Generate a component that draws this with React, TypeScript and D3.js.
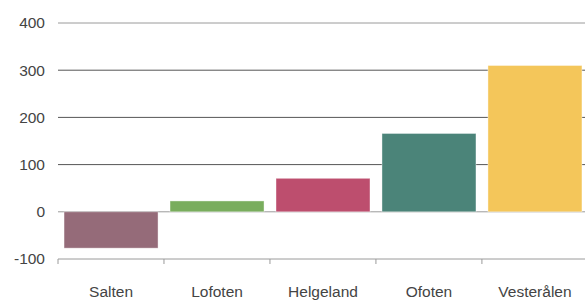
import React from "react";
import * as d3 from "d3";

const regions = ["Salten", "Lofoten", "Helgeland", "Ofoten", "Vesterålen"];
const values = [-77, 23, 71, 166, 310];
const colors = ["#956b79", "#79ad5d", "#bd4e6e", "#4b8479", "#f4c65a"];
const yTicks = [-100, 0, 100, 200, 300, 400];

const App = () => {
  const width = 585;
  const height = 300;
  const margin = { top: 23, right: -3, bottom: 41, left: 58 };

  const x = d3
    .scaleBand()
    .domain(regions)
    .range([margin.left, width - margin.right])
    .paddingInner(0.113)
    .paddingOuter(0.057);

  const y = d3
    .scaleLinear()
    .domain([-100, 400])
    .range([height - margin.bottom, margin.top]);

  const step = x.step();
  const bandStart = (r: string) => margin.left + regions.indexOf(r) * step;
  const font = "'Liberation Sans', Arial, sans-serif";

  return (
    <svg
      width={width}
      height={height}
      style={{ position: "absolute", left: 0, top: 0, display: "block" }}
    >
      {/* grid */}
      {yTicks.map((t) => (
        <g key={t}>
          <line
            x1={margin.left}
            x2={width}
            y1={y(t)}
            y2={y(t)}
            stroke={t === 400 || t === -100 || t === 0 ? "#9a9a9a" : "#555"}
            strokeWidth={1}
          />
          <text
            x={45}
            y={y(t)}
            dy="0.35em"
            textAnchor="end"
            fontSize={15.5}
            fontFamily={font}
            fill="#444"
          >
            {t}
          </text>
        </g>
      ))}

      {/* bars */}
      {regions.map((r, i) => (
        <rect
          key={r}
          x={x(r)}
          width={x.bandwidth()}
          y={y(Math.max(0, values[i]))}
          height={Math.abs(y(values[i]) - y(0))}
          fill={colors[i]}
          stroke="#ffffff"
          strokeOpacity={0.5}
          strokeWidth={0.8}
        />
      ))}

      {/* x ticks */}
      {regions.map((r) => (
        <line
          key={`t-${r}`}
          x1={bandStart(r)}
          x2={bandStart(r)}
          y1={y(-100)}
          y2={y(-100) + 5}
          stroke="#9a9a9a"
        />
      ))}

      {/* x labels */}
      {regions.map((r) => (
        <text
          key={`l-${r}`}
          x={(x(r) ?? 0) + x.bandwidth() / 2}
          y={297}
          textAnchor="middle"
          fontSize={15.5}
          fontFamily={font}
          fill="#444"
        >
          {r}
        </text>
      ))}
    </svg>
  );
};

export default App;
